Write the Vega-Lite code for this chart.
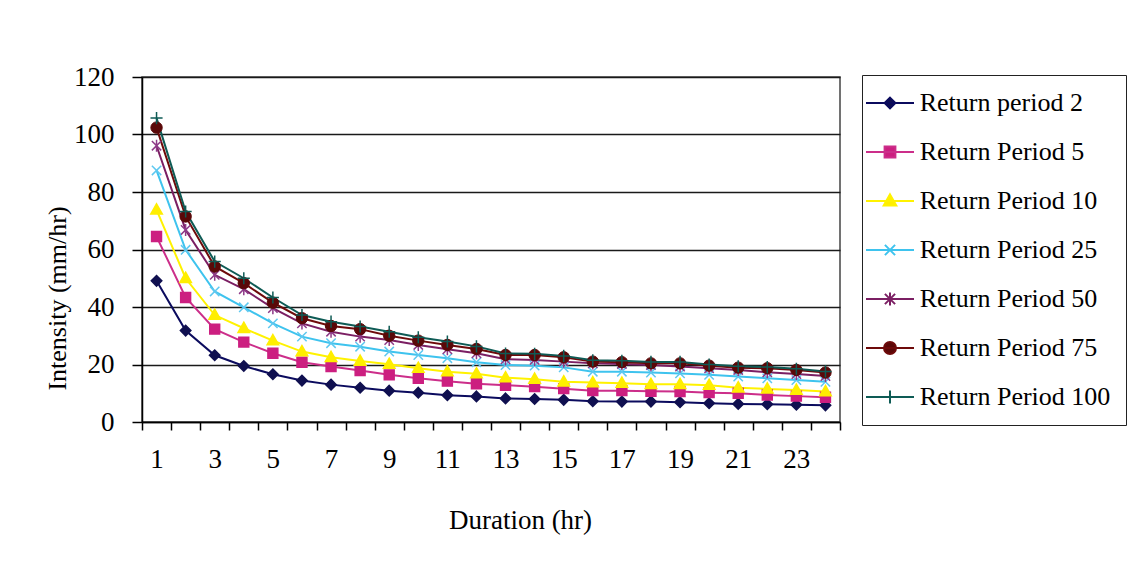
{
  "$schema": "https://vega.github.io/schema/vega-lite/v6.json",
  "width": 698,
  "height": 345,
  "autosize": {"type": "none"},
  "padding": {"left": 142, "top": 77, "right": 295, "bottom": 149},
  "background": "white",
  "config": {
    "view": {"stroke": "#444444", "strokeWidth": 1.5},
    "font": "Liberation Serif"
  },
  "data": {
    "values": [
      {"d":1,"s":"Return period 2","v":49.1},{"d":2,"s":"Return period 2","v":31.8},{"d":3,"s":"Return period 2","v":23.2},{"d":4,"s":"Return period 2","v":19.5},{"d":5,"s":"Return period 2","v":16.6},{"d":6,"s":"Return period 2","v":14.4},{"d":7,"s":"Return period 2","v":13.0},{"d":8,"s":"Return period 2","v":11.9},{"d":9,"s":"Return period 2","v":10.9},{"d":10,"s":"Return period 2","v":10.2},{"d":11,"s":"Return period 2","v":9.3},{"d":12,"s":"Return period 2","v":8.9},{"d":13,"s":"Return period 2","v":8.2},{"d":14,"s":"Return period 2","v":8.0},{"d":15,"s":"Return period 2","v":7.7},{"d":16,"s":"Return period 2","v":7.2},{"d":17,"s":"Return period 2","v":7.1},{"d":18,"s":"Return period 2","v":7.1},{"d":19,"s":"Return period 2","v":6.9},{"d":20,"s":"Return period 2","v":6.5},{"d":21,"s":"Return period 2","v":6.3},{"d":22,"s":"Return period 2","v":6.2},{"d":23,"s":"Return period 2","v":6.0},{"d":24,"s":"Return period 2","v":5.8},
      {"d":1,"s":"Return Period 5","v":64.5},{"d":2,"s":"Return Period 5","v":43.3},{"d":3,"s":"Return Period 5","v":32.3},{"d":4,"s":"Return Period 5","v":27.8},{"d":5,"s":"Return Period 5","v":23.9},{"d":6,"s":"Return Period 5","v":20.8},{"d":7,"s":"Return Period 5","v":19.3},{"d":8,"s":"Return Period 5","v":17.9},{"d":9,"s":"Return Period 5","v":16.4},{"d":10,"s":"Return Period 5","v":15.2},{"d":11,"s":"Return Period 5","v":14.2},{"d":12,"s":"Return Period 5","v":13.3},{"d":13,"s":"Return Period 5","v":12.8},{"d":14,"s":"Return Period 5","v":12.3},{"d":15,"s":"Return Period 5","v":11.6},{"d":16,"s":"Return Period 5","v":10.9},{"d":17,"s":"Return Period 5","v":10.9},{"d":18,"s":"Return Period 5","v":10.7},{"d":19,"s":"Return Period 5","v":10.6},{"d":20,"s":"Return Period 5","v":10.2},{"d":21,"s":"Return Period 5","v":10.0},{"d":22,"s":"Return Period 5","v":9.4},{"d":23,"s":"Return Period 5","v":9.0},{"d":24,"s":"Return Period 5","v":8.6},
      {"d":1,"s":"Return Period 10","v":73.8},{"d":2,"s":"Return Period 10","v":50.0},{"d":3,"s":"Return Period 10","v":37.2},{"d":4,"s":"Return Period 10","v":32.6},{"d":5,"s":"Return Period 10","v":28.3},{"d":6,"s":"Return Period 10","v":24.5},{"d":7,"s":"Return Period 10","v":22.5},{"d":8,"s":"Return Period 10","v":21.2},{"d":9,"s":"Return Period 10","v":20.1},{"d":10,"s":"Return Period 10","v":18.7},{"d":11,"s":"Return Period 10","v":17.5},{"d":12,"s":"Return Period 10","v":16.8},{"d":13,"s":"Return Period 10","v":15.4},{"d":14,"s":"Return Period 10","v":14.9},{"d":15,"s":"Return Period 10","v":14.0},{"d":16,"s":"Return Period 10","v":13.7},{"d":17,"s":"Return Period 10","v":13.5},{"d":18,"s":"Return Period 10","v":13.1},{"d":19,"s":"Return Period 10","v":13.1},{"d":20,"s":"Return Period 10","v":12.8},{"d":21,"s":"Return Period 10","v":11.9},{"d":22,"s":"Return Period 10","v":11.5},{"d":23,"s":"Return Period 10","v":11.1},{"d":24,"s":"Return Period 10","v":10.6},
      {"d":1,"s":"Return Period 25","v":87.5},{"d":2,"s":"Return Period 25","v":59.9},{"d":3,"s":"Return Period 25","v":45.4},{"d":4,"s":"Return Period 25","v":39.9},{"d":5,"s":"Return Period 25","v":34.3},{"d":6,"s":"Return Period 25","v":29.7},{"d":7,"s":"Return Period 25","v":27.4},{"d":8,"s":"Return Period 25","v":26.2},{"d":9,"s":"Return Period 25","v":24.5},{"d":10,"s":"Return Period 25","v":23.3},{"d":11,"s":"Return Period 25","v":22.2},{"d":12,"s":"Return Period 25","v":20.8},{"d":13,"s":"Return Period 25","v":19.8},{"d":14,"s":"Return Period 25","v":19.6},{"d":15,"s":"Return Period 25","v":19.0},{"d":16,"s":"Return Period 25","v":17.5},{"d":17,"s":"Return Period 25","v":17.5},{"d":18,"s":"Return Period 25","v":17.2},{"d":19,"s":"Return Period 25","v":16.9},{"d":20,"s":"Return Period 25","v":16.4},{"d":21,"s":"Return Period 25","v":15.8},{"d":22,"s":"Return Period 25","v":15.2},{"d":23,"s":"Return Period 25","v":14.6},{"d":24,"s":"Return Period 25","v":14.0},
      {"d":1,"s":"Return Period 50","v":96.1},{"d":2,"s":"Return Period 50","v":66.8},{"d":3,"s":"Return Period 50","v":51.2},{"d":4,"s":"Return Period 50","v":46.2},{"d":5,"s":"Return Period 50","v":39.6},{"d":6,"s":"Return Period 50","v":34.3},{"d":7,"s":"Return Period 50","v":31.4},{"d":8,"s":"Return Period 50","v":29.7},{"d":9,"s":"Return Period 50","v":28.5},{"d":10,"s":"Return Period 50","v":26.8},{"d":11,"s":"Return Period 50","v":25.3},{"d":12,"s":"Return Period 50","v":23.9},{"d":13,"s":"Return Period 50","v":21.8},{"d":14,"s":"Return Period 50","v":21.6},{"d":15,"s":"Return Period 50","v":21.0},{"d":16,"s":"Return Period 50","v":20.4},{"d":17,"s":"Return Period 50","v":20.2},{"d":18,"s":"Return Period 50","v":19.8},{"d":19,"s":"Return Period 50","v":19.3},{"d":20,"s":"Return Period 50","v":18.7},{"d":21,"s":"Return Period 50","v":18.1},{"d":22,"s":"Return Period 50","v":17.3},{"d":23,"s":"Return Period 50","v":16.7},{"d":24,"s":"Return Period 50","v":16.0},
      {"d":1,"s":"Return Period 75","v":102.4},{"d":2,"s":"Return Period 75","v":71.5},{"d":3,"s":"Return Period 75","v":54.1},{"d":4,"s":"Return Period 75","v":48.3},{"d":5,"s":"Return Period 75","v":41.5},{"d":6,"s":"Return Period 75","v":36.1},{"d":7,"s":"Return Period 75","v":33.4},{"d":8,"s":"Return Period 75","v":32.3},{"d":9,"s":"Return Period 75","v":30.0},{"d":10,"s":"Return Period 75","v":28.3},{"d":11,"s":"Return Period 75","v":26.8},{"d":12,"s":"Return Period 75","v":25.4},{"d":13,"s":"Return Period 75","v":23.3},{"d":14,"s":"Return Period 75","v":23.3},{"d":15,"s":"Return Period 75","v":22.5},{"d":16,"s":"Return Period 75","v":21.0},{"d":17,"s":"Return Period 75","v":20.8},{"d":18,"s":"Return Period 75","v":20.4},{"d":19,"s":"Return Period 75","v":20.4},{"d":20,"s":"Return Period 75","v":19.6},{"d":21,"s":"Return Period 75","v":18.9},{"d":22,"s":"Return Period 75","v":18.7},{"d":23,"s":"Return Period 75","v":18.1},{"d":24,"s":"Return Period 75","v":17.2},
      {"d":1,"s":"Return Period 100","v":105.7},{"d":2,"s":"Return Period 100","v":73.2},{"d":3,"s":"Return Period 100","v":55.8},{"d":4,"s":"Return Period 100","v":50.0},{"d":5,"s":"Return Period 100","v":43.3},{"d":6,"s":"Return Period 100","v":37.2},{"d":7,"s":"Return Period 100","v":34.9},{"d":8,"s":"Return Period 100","v":33.2},{"d":9,"s":"Return Period 100","v":31.4},{"d":10,"s":"Return Period 100","v":29.5},{"d":11,"s":"Return Period 100","v":28.0},{"d":12,"s":"Return Period 100","v":26.3},{"d":13,"s":"Return Period 100","v":23.8},{"d":14,"s":"Return Period 100","v":23.7},{"d":15,"s":"Return Period 100","v":23.0},{"d":16,"s":"Return Period 100","v":21.5},{"d":17,"s":"Return Period 100","v":21.3},{"d":18,"s":"Return Period 100","v":20.9},{"d":19,"s":"Return Period 100","v":20.9},{"d":20,"s":"Return Period 100","v":20.0},{"d":21,"s":"Return Period 100","v":19.4},{"d":22,"s":"Return Period 100","v":19.1},{"d":23,"s":"Return Period 100","v":18.5},{"d":24,"s":"Return Period 100","v":17.6}
    ]
  },
  "encoding": {
    "x": {
      "field": "d",
      "type": "quantitative",
      "scale": {"domain": [0.5, 24.5], "nice": false, "zero": false},
      "axis": {
        "title": "Duration (hr)",
        "values": [0.5,1.5,2.5,3.5,4.5,5.5,6.5,7.5,8.5,9.5,10.5,11.5,12.5,13.5,14.5,15.5,16.5,17.5,18.5,19.5,20.5,21.5,22.5,23.5,24.5],
        "labelExpr": "(datum.value + 0.5) % 2 == 1 && datum.value < 24 ? format(datum.value + 0.5, 'd') : ''",
        "labelOffset": 14.54,
        "labelOverlap": false,
        "labelFlush": false,
        "labelBound": false,
        "grid": false,
        "tickSize": 8,
        "tickWidth": 1.5,
        "tickColor": "#000000",
        "domainColor": "#000000",
        "domainWidth": 1.5,
        "labelFont": "Liberation Serif",
        "labelFontSize": 27,
        "labelColor": "#000000",
        "labelPadding": 16,
        "titleFont": "Liberation Serif",
        "titleFontSize": 27,
        "titleFontWeight": "normal",
        "titleColor": "#000000",
        "titleX": 378,
        "titleY": 106,
        "titleBaseline": "alphabetic",
        "titleAlign": "center"
      }
    },
    "y": {
      "field": "v",
      "type": "quantitative",
      "scale": {"domain": [0, 120], "nice": false},
      "axis": {
        "title": "Intensity (mm/hr)",
        "values": [0, 20, 40, 60, 80, 100, 120],
        "grid": true,
        "gridColor": "#1a1a1a",
        "gridWidth": 1.5,
        "tickSize": 10,
        "tickWidth": 1.5,
        "tickColor": "#000000",
        "domainColor": "#000000",
        "domainWidth": 1.5,
        "labelFont": "Liberation Serif",
        "labelFontSize": 27,
        "labelColor": "#000000",
        "labelPadding": 18,
        "labelFlush": false,
        "labelOverlap": false,
        "titleFont": "Liberation Serif",
        "titleFontSize": 26,
        "titleFontWeight": "normal",
        "titleColor": "#000000",
        "titleX": -85,
        "titleY": 221,
        "titleBaseline": "middle",
        "titleAlign": "center",
        "titleAngle": -90
      }
    }
  },
  "layer": [
    {
      "transform": [{"filter": "datum.v < 0"}],
      "mark": {"type": "point", "size": 144, "strokeWidth": 2, "opacity": 1},
      "encoding": {
        "fill": {
          "field": "s",
          "type": "nominal",
          "scale": {
            "domain": ["Return period 2","Return Period 5","Return Period 10","Return Period 25","Return Period 50","Return Period 75","Return Period 100"],
            "range": ["#101050","#CC1F80","#FFEE00","#5EC8F0","#8E3A88","#5A0808","#0E5B55"]
          },
          "legend": {"title": null, "orient": "none", "legendX": 720, "legendY": -2, "direction": "vertical", "strokeColor": "#222222", "fillColor": "#ffffff", "padding": 15, "symbolSize": 144, "symbolStrokeWidth": 2, "symbolOffset": 0, "labelOffset": 16.7, "rowPadding": 23, "labelFont": "Liberation Serif", "labelFontSize": 26, "labelColor": "#000000", "labelLimit": 400}
        },
        "stroke": {
          "field": "s",
          "type": "nominal",
          "scale": {
            "domain": ["Return period 2","Return Period 5","Return Period 10","Return Period 25","Return Period 50","Return Period 75","Return Period 100"],
            "range": ["#0B0B5E","#CC2E8A","#FFF200","#3EC3EE","#7B1F63","#6E0A0A","#0E5B55"]
          },
          "legend": {"title": null, "orient": "none", "legendX": 720, "legendY": -2, "direction": "vertical", "strokeColor": "#222222", "fillColor": "#ffffff", "padding": 15, "symbolSize": 144, "symbolStrokeWidth": 2, "symbolOffset": 0, "labelOffset": 16.7, "rowPadding": 23, "labelFont": "Liberation Serif", "labelFontSize": 26, "labelColor": "#000000", "labelLimit": 400}
        },
        "shape": {
          "field": "s",
          "type": "nominal",
          "scale": {
            "domain": ["Return period 2","Return Period 5","Return Period 10","Return Period 25","Return Period 50","Return Period 75","Return Period 100"],
            "range": [
              "M-4,0L4,0M0,-0.9L0.9,0L0,0.9L-0.9,0Z",
              "M-4,0L4,0M-0.9,-0.9L0.9,-0.9L0.9,0.9L-0.9,0.9Z",
              "M-4,0L4,0M0,-1.1L1.05,0.75L-1.05,0.75Z",
              "M-4,0L4,0M-0.85,-0.85L0.85,0.85M-0.85,0.85L0.85,-0.85",
              "M-4,0L4,0M-0.85,-0.85L0.85,0.85M-0.85,0.85L0.85,-0.85M0,-1.1L0,1.1",
              "M-4,0L4,0M-1,0A1,1 0 1,0 1,0A1,1 0 1,0 -1,0Z",
              "M-4,0L4,0M0,-1.1L0,1.1"
            ]
          },
          "legend": {"title": null, "orient": "none", "legendX": 720, "legendY": -2, "direction": "vertical", "strokeColor": "#222222", "fillColor": "#ffffff", "padding": 15, "symbolSize": 144, "symbolStrokeWidth": 2, "symbolOffset": 0, "labelOffset": 16.7, "rowPadding": 23, "labelFont": "Liberation Serif", "labelFontSize": 26, "labelColor": "#000000", "labelLimit": 400}
        }
      }
    },
    {
      "mark": {"type": "line", "strokeWidth": 2},
      "encoding": {
        "color": {
          "field": "s",
          "type": "nominal",
          "scale": {
            "domain": ["Return period 2","Return Period 5","Return Period 10","Return Period 25","Return Period 50","Return Period 75","Return Period 100"],
            "range": ["#0B0B5E","#CC2E8A","#FFF200","#3EC3EE","#7B1F63","#6E0A0A","#0E5B55"]
          },
          "legend": null
        }
      }
    },
    {
      "transform": [{"filter": {"field": "s", "equal": "Return period 2"}}],
      "mark": {"type": "point", "shape": "M0,-1L1,0L0,1L-1,0Z", "size": 110, "filled": true, "fill": "#101050", "stroke": "#101050", "strokeWidth": 1.5, "opacity": 1}
    },
    {
      "transform": [{"filter": {"field": "s", "equal": "Return Period 5"}}],
      "mark": {"type": "point", "shape": "M-0.9,-0.9L0.9,-0.9L0.9,0.9L-0.9,0.9Z", "size": 121, "filled": true, "fill": "#CC1F80", "stroke": "#CC1F80", "strokeWidth": 1.5, "opacity": 1}
    },
    {
      "transform": [{"filter": {"field": "s", "equal": "Return Period 10"}}],
      "mark": {"type": "point", "shape": "M0,-1.1L1.05,0.75L-1.05,0.75Z", "size": 121, "filled": true, "fill": "#FFEE00", "stroke": "#FFEE00", "strokeWidth": 1.5, "opacity": 1}
    },
    {
      "transform": [{"filter": {"field": "s", "equal": "Return Period 25"}}],
      "mark": {"type": "point", "shape": "M-0.85,-0.85L0.85,0.85M-0.85,0.85L0.85,-0.85", "size": 121, "filled": false, "stroke": "#5EC8F0", "strokeWidth": 1.5, "opacity": 1}
    },
    {
      "transform": [{"filter": {"field": "s", "equal": "Return Period 50"}}],
      "mark": {"type": "point", "shape": "M-0.85,-0.85L0.85,0.85M-0.85,0.85L0.85,-0.85M0,-1.1L0,1.1", "size": 121, "filled": false, "stroke": "#8E3A88", "strokeWidth": 1.5, "opacity": 1}
    },
    {
      "transform": [{"filter": {"field": "s", "equal": "Return Period 75"}}],
      "mark": {"type": "point", "shape": "circle", "size": 130, "filled": true, "fill": "#5A0808", "stroke": "#5A0808", "strokeWidth": 1, "opacity": 1}
    },
    {
      "transform": [{"filter": {"field": "s", "equal": "Return Period 100"}}],
      "mark": {"type": "point", "shape": "M-1.1,0L1.1,0M0,-1.1L0,1.1", "size": 121, "filled": false, "stroke": "#0E5B55", "strokeWidth": 1.5, "opacity": 1}
    }
  ]
}
